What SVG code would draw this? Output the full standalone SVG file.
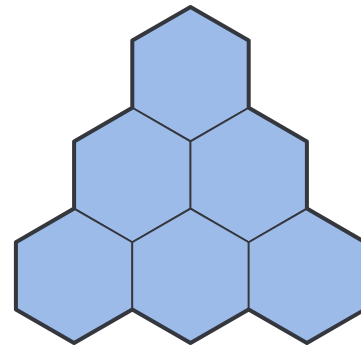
<svg xmlns="http://www.w3.org/2000/svg" width="361" height="349" viewBox="0 0 361 349">
<style>
.hex{fill:#9dbbe9;stroke:#34373d;stroke-width:1.8;stroke-linejoin:round}
.outline{fill:none;stroke:#34373d;stroke-width:4;stroke-linejoin:round}
</style>
<rect width="361" height="349" fill="#ffffff"/>
<g id="hex-top"><polygon class="hex" points="190.5,7 248.7,40.6 248.7,107.8 190.5,141.4 132.3,107.8 132.3,40.6"/></g>
<g id="hex-mid-left"><polygon class="hex" points="132.3,107.8 190.5,141.4 190.5,208.6 132.3,242.2 74.1,208.6 74.1,141.4"/></g>
<g id="hex-mid-right"><polygon class="hex" points="248.7,107.8 306.9,141.4 306.9,208.6 248.7,242.2 190.5,208.6 190.5,141.4"/></g>
<g id="hex-bottom-left"><polygon class="hex" points="74.1,208.6 132.3,242.2 132.3,309.4 74.1,343 15.9,309.4 15.9,242.2"/></g>
<g id="hex-bottom-mid"><polygon class="hex" points="190.5,208.6 248.7,242.2 248.7,309.4 190.5,343 132.3,309.4 132.3,242.2"/></g>
<g id="hex-bottom-right"><polygon class="hex" points="306.9,208.6 365.1,242.2 365.1,309.4 306.9,343 248.7,309.4 248.7,242.2"/></g>
<g id="outline"><path class="outline" d="M190.5,7 L248.7,40.6 L248.7,107.8 L306.9,141.4 L306.9,208.6 L365.1,242.2 L365.1,309.4 L306.9,343 L248.7,309.4 L190.5,343 L132.3,309.4 L74.1,343 L15.9,309.4 L15.9,242.2 L74.1,208.6 L74.1,141.4 L132.3,107.8 L132.3,40.6 Z"/></g>
</svg>
